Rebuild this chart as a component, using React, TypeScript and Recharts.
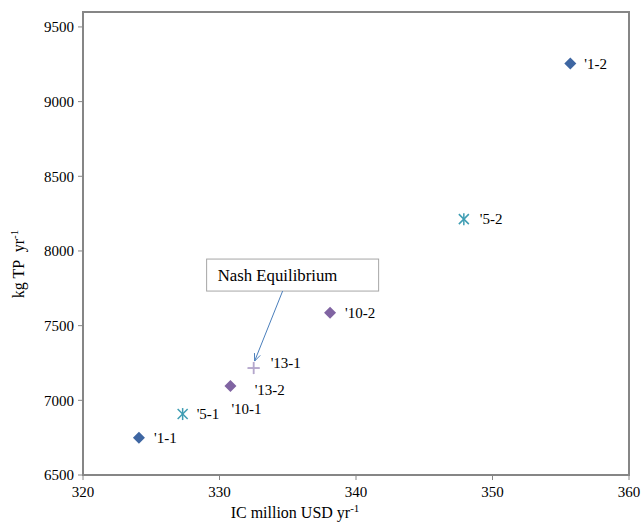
import React from 'react';
import { ScatterChart, Scatter, XAxis, YAxis, ReferenceArea, ReferenceDot } from 'recharts';

// values
const pointNames = ["'1-1", "'1-2", "'5-1", "'5-2", "'10-1", "'10-2", "'13-1", "'13-2"];
const icValues = [324.1, 355.7, 327.3, 347.9, 330.8, 338.1, 332.5, 332.5];
const tpValues = [6750, 9255, 6908, 8213, 7096, 7586, 7216, 7216];
const pointGroups = ['1', '1', '5', '5', '10', '10', '13', '13'];

const xTicks = [320, 330, 340, 350, 360];
const yTicks = [6500, 7000, 7500, 8000, 8500, 9000, 9500];

const nashLabel = 'Nash Equilibrium';
const nashIc = 332.5;
const nashTp = 7216;

const FONT = "'Liberation Serif', 'Times New Roman', Times, serif";
const AXIS = '#868686';

const groupStyles: Record<string, { marker: string; color: string }> = {
    '1': { marker: 'diamond', color: '#3e66a2' },
    '5': { marker: 'asterisk', color: '#3f9db3' },
    '10': { marker: 'diamond', color: '#8064a2' },
    '13': { marker: 'plus', color: '#b4a7cc' },
};

// where each point label sits relative to its marker
const labelOffsets: Record<string, [number, number]> = {
    "'1-1": [15, 0],
    "'1-2": [14, 0],
    "'5-1": [14, 0],
    "'5-2": [16, 0],
    "'10-1": [1, 23],
    "'10-2": [15, 0],
    "'13-1": [17, -5],
    "'13-2": [1, 22],
};

const groupData = (g: string) =>
    pointNames
        .map((name, i) => ({ name, ic: icValues[i], tp: tpValues[i], group: pointGroups[i] }))
        .filter((d) => d.group === g);

const textStyle = { fontFamily: FONT, fontSize: 15 };
const titleStyle = { fontFamily: FONT, fontSize: 16 };

const makeShape = (marker: string, color: string) => (props: any) => {
    const { cx, cy, payload } = props;
    const [dx, dy] = labelOffsets[payload.name] || [14, 0];
    let mark;
    if (marker === 'diamond') {
        mark = <polygon points={`${cx},${cy - 6} ${cx + 6},${cy} ${cx},${cy + 6} ${cx - 6},${cy}`} fill={color} />;
    } else if (marker === 'asterisk') {
        mark = (
            <g stroke={color} strokeWidth={1.5}>
                <line x1={cx} y1={cy - 6} x2={cx} y2={cy + 6} />
                <line x1={cx - 5} y1={cy - 5} x2={cx + 5} y2={cy + 5} />
                <line x1={cx + 5} y1={cy - 5} x2={cx - 5} y2={cy + 5} />
            </g>
        );
    } else {
        mark = (
            <g stroke={color} strokeWidth={1.5}>
                <line x1={cx - 6} y1={cy} x2={cx + 6} y2={cy} />
                <line x1={cx} y1={cy - 6} x2={cx} y2={cy + 6} />
            </g>
        );
    }
    return (
        <g>
            {mark}
            <text x={cx + dx} y={cy + dy} dy="0.35em" style={textStyle} fill="#000">
                {payload.name}
            </text>
        </g>
    );
};

const NashCallout = (props: any) => {
    const { cx, cy } = props;
    const bx = cx - 47;
    const by = cy - 109;
    const tipX = cx + 1;
    const tipY = cy - 7;
    const sx = cx + 29;
    const sy = cy - 77;
    const ang = Math.atan2(tipY - sy, tipX - sx);
    const a1 = ang + Math.PI - 0.4;
    const a2 = ang + Math.PI + 0.4;
    return (
        <g>
            <rect x={bx} y={by} width={172} height={32} fill="#fff" stroke="#a6a6a6" strokeWidth={1} />
            <text x={bx + 11} y={by + 16.5} dy="0.35em" style={{ fontFamily: FONT, fontSize: 16.8 }} fill="#000">
                {nashLabel}
            </text>
            <line x1={sx} y1={sy} x2={tipX} y2={tipY} stroke="#4a7ebb" strokeWidth={1} />
            <polyline
                points={`${tipX + 8 * Math.cos(a1)},${tipY + 8 * Math.sin(a1)} ${tipX},${tipY} ${tipX + 8 * Math.cos(a2)},${tipY + 8 * Math.sin(a2)}`}
                fill="none"
                stroke="#4a7ebb"
                strokeWidth={1}
            />
        </g>
    );
};

const XTitle = (props: any) => {
    const { viewBox } = props;
    return (
        <text x={viewBox.x + 212} y={518} textAnchor="middle" style={titleStyle} fill="#000">
            <tspan>IC million USD yr</tspan>
            <tspan dy={-6} style={{ fontSize: 11 }}>-1</tspan>
        </text>
    );
};

const YTitle = () => (
    <text x={0} y={0} transform="translate(24,264) rotate(-90)" textAnchor="middle" style={{ ...titleStyle, whiteSpace: 'pre' }} fill="#000">
        <tspan>kg TP  yr</tspan>
        <tspan dy={-6} style={{ fontSize: 11 }}>-1</tspan>
    </text>
);

export default function App() {
    return (
        <div style={{ position: 'absolute', left: 0, top: 0, background: '#fff', fontFamily: FONT }}>
            <ScatterChart width={641} height={526} margin={{ top: 12, right: 12, bottom: 0, left: 0 }} style={{ fontFamily: FONT }}>
                <ReferenceArea x1={320} x2={360} y1={6500} y2={9600} fill="none" stroke={AXIS} strokeWidth={2} />
                <XAxis
                    type="number"
                    dataKey="ic"
                    domain={[320, 360]}
                    ticks={xTicks}
                    height={51}
                    axisLine={{ stroke: AXIS, strokeWidth: 2 }}
                    tickLine={{ stroke: AXIS }}
                    tickSize={5}
                    tickMargin={6}
                    tick={{ fill: '#000', style: textStyle }}
                    label={<XTitle />}
                />
                <YAxis
                    type="number"
                    dataKey="tp"
                    domain={[6500, 9600]}
                    ticks={yTicks}
                    width={83}
                    axisLine={{ stroke: AXIS, strokeWidth: 2 }}
                    tickLine={{ stroke: AXIS }}
                    tickSize={5}
                    tickMargin={4}
                    tick={{ fill: '#000', style: textStyle }}
                    label={<YTitle />}
                />
                {['1', '5', '10', '13'].map((g) => (
                    <Scatter
                        key={g}
                        name={g}
                        data={groupData(g)}
                        isAnimationActive={false}
                        shape={makeShape(groupStyles[g].marker, groupStyles[g].color)}
                    />
                ))}
                <ReferenceDot x={nashIc} y={nashTp} r={0} shape={<NashCallout />} />
            </ScatterChart>
        </div>
    );
}
